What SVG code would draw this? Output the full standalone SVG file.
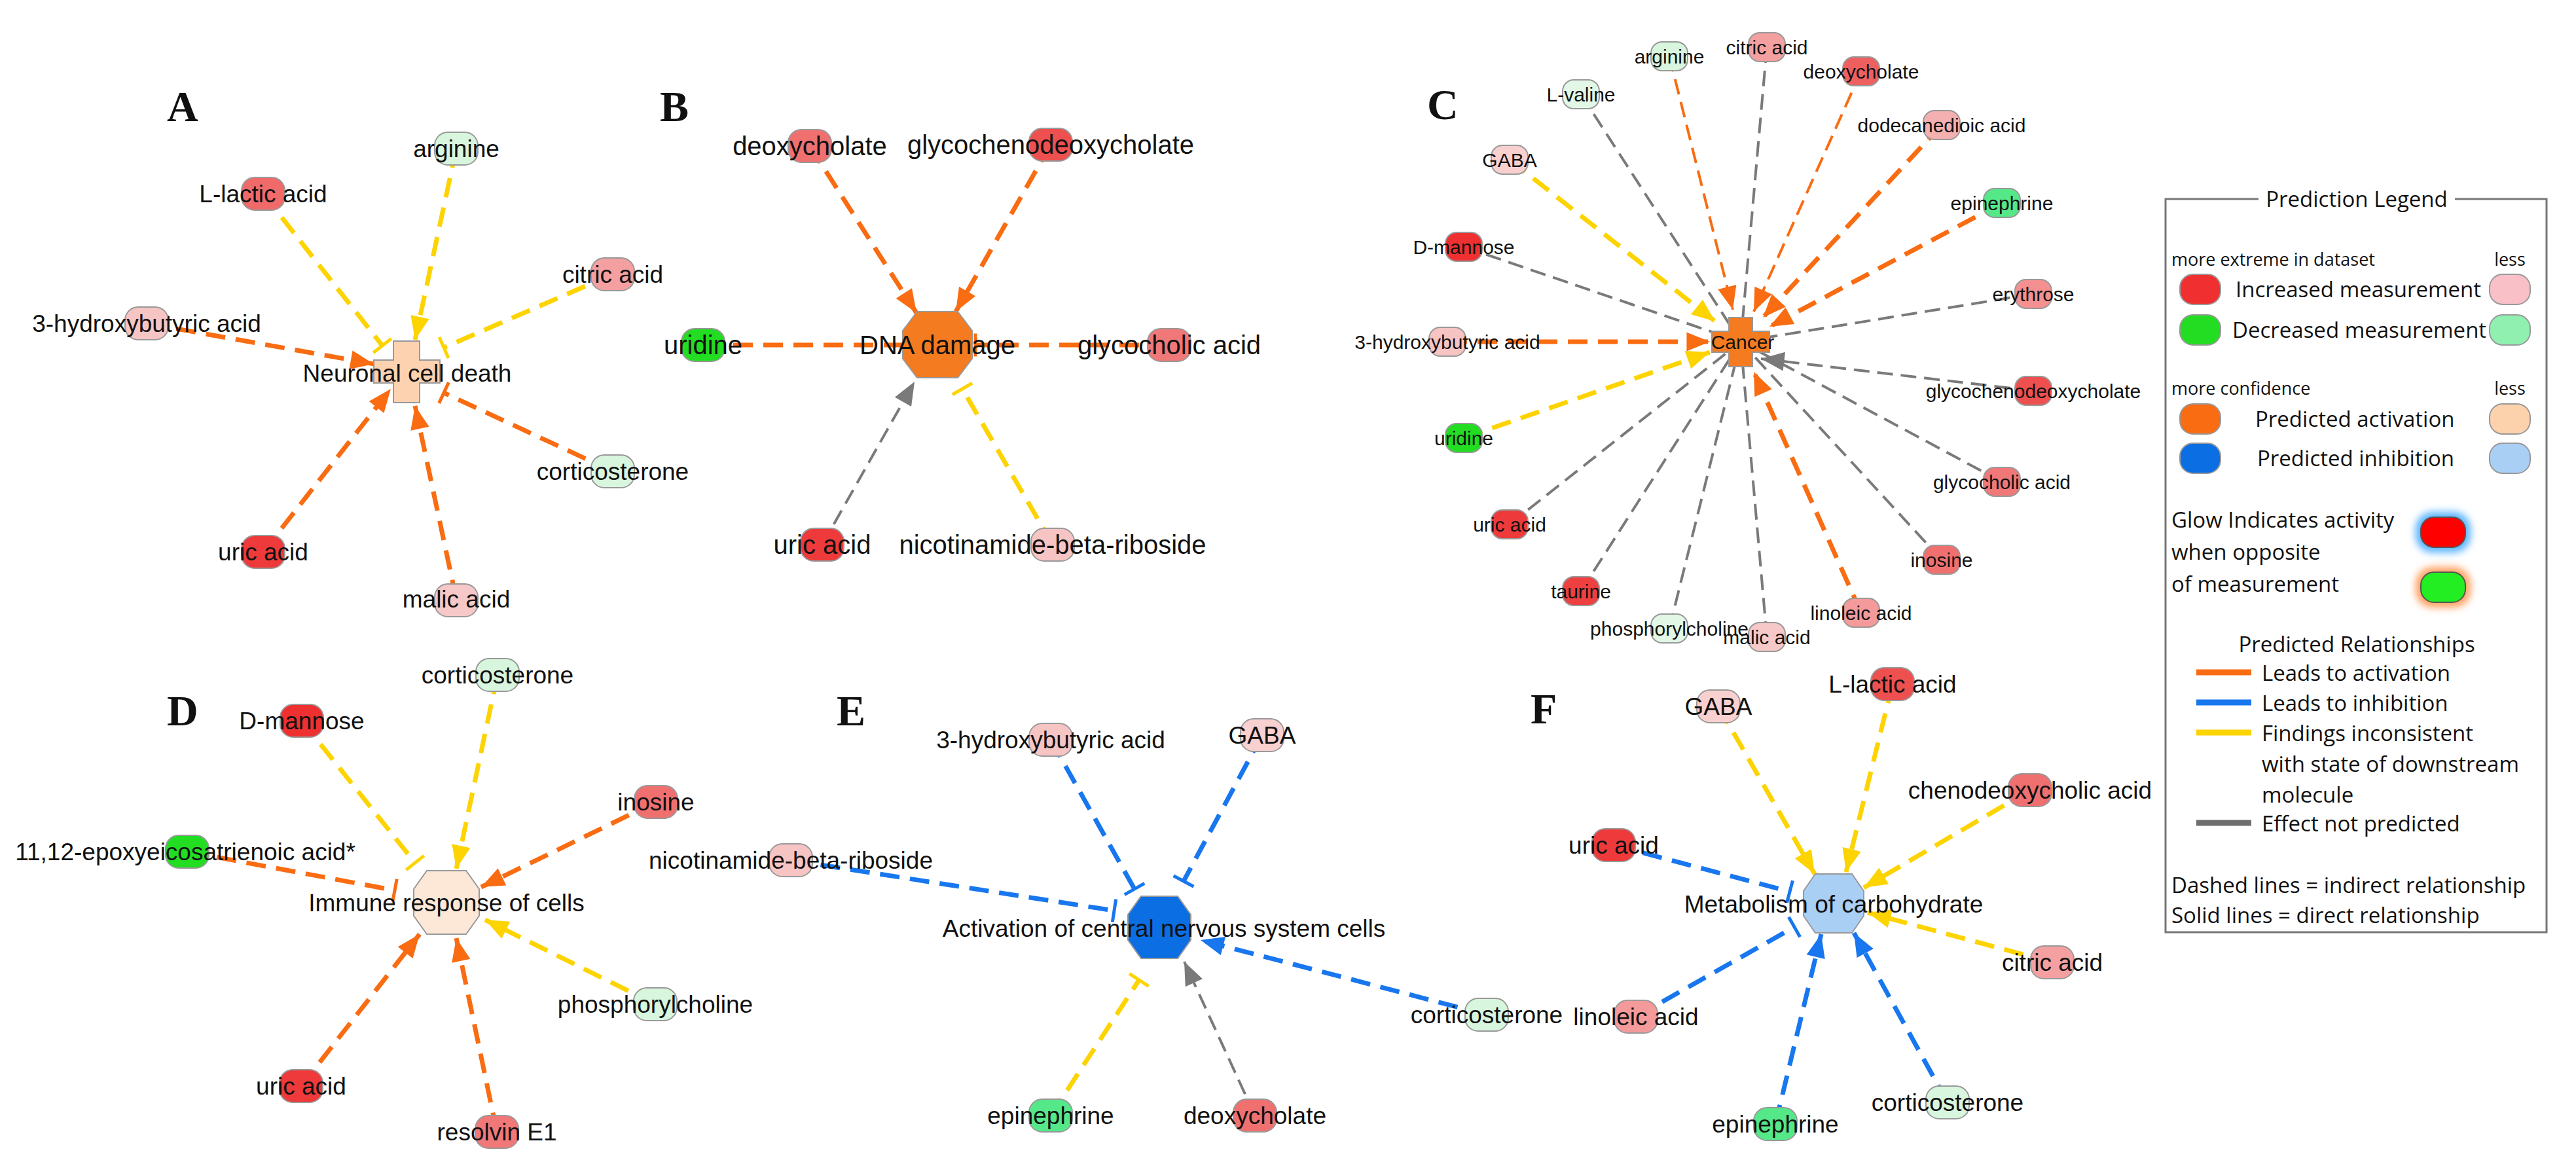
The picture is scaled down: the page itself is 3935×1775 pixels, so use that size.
<svg xmlns="http://www.w3.org/2000/svg" width="3935" height="1775" viewBox="0 0 3935 1775">
<style>
text{font-family:"Liberation Sans",Arial,sans-serif;fill:#111}
.lbl{font-family:"Liberation Serif","Times New Roman",serif;font-weight:bold;font-size:66px}
.n{stroke:#999;stroke-width:2}
.t37{font-size:37px;text-anchor:middle;dominant-baseline:central}
.t40{font-size:40px;text-anchor:middle;dominant-baseline:central}
.t30{font-size:30px;text-anchor:middle;dominant-baseline:central}
.e{fill:none;stroke-width:7;stroke-dasharray:30 16}
.thin{stroke-width:4;stroke-dasharray:24 12}
.o{stroke:#f96c12}.b{stroke:#1877ee}.y{stroke:#fdd300}.g{stroke:#7a7a7a}
.lg{font-size:33px;font-family:"Open Sans","Liberation Sans",sans-serif}
.ls{font-size:27px;font-family:"Open Sans","Liberation Sans",sans-serif}
</style>
<defs>
<marker id="ao" markerUnits="userSpaceOnUse" markerWidth="40" markerHeight="40" viewBox="-34 -14 36 28" refX="0" refY="0" orient="auto"><path d="M0,0 L-32,-13 L-32,13Z" fill="#f96c12"/></marker>
<marker id="ab" markerUnits="userSpaceOnUse" markerWidth="40" markerHeight="40" viewBox="-34 -14 36 28" refX="0" refY="0" orient="auto"><path d="M0,0 L-32,-13 L-32,13Z" fill="#1877ee"/></marker>
<marker id="ay" markerUnits="userSpaceOnUse" markerWidth="40" markerHeight="40" viewBox="-34 -14 36 28" refX="0" refY="0" orient="auto"><path d="M0,0 L-32,-13 L-32,13Z" fill="#fdd300"/></marker>
<marker id="ag" markerUnits="userSpaceOnUse" markerWidth="40" markerHeight="40" viewBox="-34 -14 36 28" refX="0" refY="0" orient="auto"><path d="M0,0 L-32,-13 L-32,13Z" fill="#7a7a7a"/></marker>
<marker id="to" markerUnits="userSpaceOnUse" markerWidth="30" markerHeight="40" viewBox="-10 -16 20 32" refX="0" refY="0" orient="auto"><path d="M0,-14 L0,14" stroke="#f96c12" stroke-width="4"/></marker>
<marker id="tb" markerUnits="userSpaceOnUse" markerWidth="30" markerHeight="40" viewBox="-10 -16 20 32" refX="0" refY="0" orient="auto"><path d="M0,-14 L0,14" stroke="#1877ee" stroke-width="4"/></marker>
<marker id="ty" markerUnits="userSpaceOnUse" markerWidth="30" markerHeight="40" viewBox="-10 -16 20 32" refX="0" refY="0" orient="auto"><path d="M0,-14 L0,14" stroke="#fdd300" stroke-width="4"/></marker>
<filter id="blur" x="-50%" y="-50%" width="200%" height="200%"><feGaussianBlur stdDeviation="6"/></filter>
</defs>
<rect width="3935" height="1775" fill="#fff"/>

<g id="connectors">
<!-- A -->
<line class="e y" x1="697" y1="227" x2="634" y2="519" marker-end="url(#ay)"/>
<line class="e y" x1="402" y1="296" x2="584" y2="528" marker-end="url(#ty)"/>
<line class="e y" x1="936" y1="419" x2="678" y2="531" marker-end="url(#ty)"/>
<line class="e o" x1="224" y1="494" x2="571" y2="556" marker-end="url(#ao)"/>
<line class="e o" x1="936" y1="720" x2="678" y2="600" marker-end="url(#to)"/>
<line class="e o" x1="402" y1="843" x2="597" y2="594" marker-end="url(#ao)"/>
<line class="e o" x1="697" y1="915" x2="634" y2="620" marker-end="url(#ao)"/>
<!-- B -->
<line class="e o" x1="1237" y1="223" x2="1400" y2="478" marker-end="url(#ao)"/>
<line class="e o" x1="1605" y1="221" x2="1460" y2="476" marker-end="url(#ao)"/>
<line class="e o" x1="1074" y1="527" x2="1379" y2="527"/>
<line class="e o" x1="1786" y1="527" x2="1490" y2="527" marker-end="url(#to)"/>
<line class="e g thin" x1="1256" y1="832" x2="1397" y2="583" marker-end="url(#ag)"/>
<line class="e y" x1="1608" y1="832" x2="1470" y2="594" marker-end="url(#ty)"/>
<!-- C -->
<line class="e o thin" x1="2550" y1="86" x2="2647" y2="473" marker-end="url(#ao)"/>
<line class="e g thin" x1="2699" y1="72" x2="2659" y2="522"/>
<line class="e o thin" x1="2843" y1="109" x2="2679" y2="476" marker-end="url(#ao)"/>
<line class="e g thin" x1="2415" y1="144" x2="2659" y2="522"/>
<line class="e o" x1="2966" y1="191" x2="2693" y2="485" marker-end="url(#ao)"/>
<line class="e y" x1="2306" y1="244" x2="2620" y2="491" marker-end="url(#ay)"/>
<line class="e o" x1="3058" y1="310" x2="2703" y2="499" marker-end="url(#ao)"/>
<line class="e g thin" x1="2236" y1="377" x2="2659" y2="522"/>
<line class="e g thin" x1="3106" y1="449" x2="2659" y2="522"/>
<line class="e o" x1="2211" y1="522" x2="2612" y2="522" marker-end="url(#ao)"/>
<line class="e g thin" x1="3106" y1="597" x2="2690" y2="548" marker-end="url(#ag)"/>
<line class="e y" x1="2236" y1="669" x2="2612" y2="538" marker-end="url(#ay)"/>
<line class="e g thin" x1="3058" y1="736" x2="2659" y2="522"/>
<line class="e g thin" x1="2306" y1="801" x2="2659" y2="522"/>
<line class="e g thin" x1="2966" y1="855" x2="2659" y2="522"/>
<line class="e g thin" x1="2415" y1="903" x2="2659" y2="522"/>
<line class="e o" x1="2843" y1="936" x2="2679" y2="568" marker-end="url(#ao)"/>
<line class="e g thin" x1="2550" y1="960" x2="2659" y2="522"/>
<line class="e g thin" x1="2699" y1="973" x2="2659" y2="522"/>
<!-- D -->
<line class="e y" x1="760" y1="1031" x2="697" y2="1327" marker-end="url(#ay)"/>
<line class="e y" x1="461" y1="1101" x2="634" y2="1318" marker-end="url(#ty)"/>
<line class="e o" x1="1002" y1="1225" x2="735" y2="1355" marker-end="url(#ao)"/>
<line class="e o" x1="286" y1="1301" x2="603" y2="1360" marker-end="url(#to)"/>
<line class="e y" x1="1001" y1="1534" x2="741" y2="1405" marker-end="url(#ay)"/>
<line class="e o" x1="460" y1="1659" x2="641" y2="1427" marker-end="url(#ao)"/>
<line class="e o" x1="759" y1="1729" x2="697" y2="1433" marker-end="url(#ao)"/>
<!-- E -->
<line class="e b" x1="1605" y1="1130" x2="1733" y2="1358" marker-end="url(#tb)"/>
<line class="e b" x1="1928" y1="1123" x2="1808" y2="1346" marker-end="url(#tb)"/>
<line class="e b" x1="1208" y1="1314" x2="1702" y2="1391" marker-end="url(#tb)"/>
<line class="e b" x1="2271" y1="1550" x2="1834" y2="1436" marker-end="url(#ab)"/>
<line class="e y" x1="1605" y1="1704" x2="1740" y2="1497" marker-end="url(#ty)"/>
<line class="e g thin" x1="1917" y1="1704" x2="1809" y2="1469" marker-end="url(#ag)"/>
<!-- F -->
<line class="e y" x1="2625" y1="1079" x2="2772" y2="1335" marker-end="url(#ay)"/>
<line class="e y" x1="2891" y1="1045" x2="2820" y2="1332" marker-end="url(#ay)"/>
<line class="e y" x1="3101" y1="1207" x2="2847" y2="1356" marker-end="url(#ay)"/>
<line class="e b" x1="2465" y1="1291" x2="2734" y2="1362" marker-end="url(#tb)"/>
<line class="e y" x1="3135" y1="1470" x2="2853" y2="1394" marker-end="url(#ay)"/>
<line class="e b" x1="2499" y1="1553" x2="2741" y2="1416" marker-end="url(#tb)"/>
<line class="e b" x1="2712" y1="1717" x2="2782" y2="1427" marker-end="url(#ab)"/>
<line class="e b" x1="2975" y1="1684" x2="2832" y2="1425" marker-end="url(#ab)"/>
</g>

<!-- panel labels -->
<g id="labels">
<text class="lbl" x="255" y="185">A</text>
<text class="lbl" x="1008" y="185">B</text>
<text class="lbl" x="2180" y="182">C</text>
<text class="lbl" x="255" y="1108">D</text>
<text class="lbl" x="1278" y="1108">E</text>
<text class="lbl" x="2338" y="1105">F</text>
</g>

<!-- Panel A -->
<g id="a-center"><path class="n" fill="#fcd2b0" d="M601,521 H641 V550 H672 V585 H641 V615 H601 V585 H571 V550 H601Z"/><text class="t37" x="622" y="570">Neuronal cell death</text></g>
<g id="a-arginine"><rect class="n" x="664" y="202" width="66" height="50" rx="20" fill="#d8f5de"/><text class="t37" x="697" y="227">arginine</text></g>
<g id="a-llactic"><rect class="n" x="369" y="271" width="66" height="50" rx="20" fill="#f06a6a"/><text class="t37" x="402" y="296">L-lactic acid</text></g>
<g id="a-citric"><rect class="n" x="903" y="394" width="66" height="50" rx="20" fill="#f4a0a0"/><text class="t37" x="936" y="419">citric acid</text></g>
<g id="a-3hb"><rect class="n" x="191" y="469" width="66" height="50" rx="20" fill="#f7c4c4"/><text class="t37" x="224" y="494">3-hydroxybutyric acid</text></g>
<g id="a-cort"><rect class="n" x="903" y="695" width="66" height="50" rx="20" fill="#d8f5de"/><text class="t37" x="936" y="720">corticosterone</text></g>
<g id="a-uric"><rect class="n" x="369" y="818" width="66" height="50" rx="20" fill="#ee3a3a"/><text class="t37" x="402" y="843">uric acid</text></g>
<g id="a-malic"><rect class="n" x="664" y="892" width="66" height="50" rx="20" fill="#f7c8c8"/><text class="t37" x="697" y="915">malic acid</text></g>

<!-- Panel B -->
<g id="b-center"><path class="n" fill="#f47b20" d="M1401,476 H1463 L1485,505 V548 L1463,577 H1401 L1379,548 V505Z"/><text class="t40" x="1432" y="527">DNA damage</text></g>
<g id="b-deoxy"><rect class="n" x="1204" y="198" width="66" height="50" rx="20" fill="#f07070"/><text class="t40" x="1237" y="223">deoxycholate</text></g>
<g id="b-gcdc"><rect class="n" x="1572" y="196" width="66" height="50" rx="20" fill="#ee5050"/><text class="t40" x="1605" y="221">glycochenodeoxycholate</text></g>
<g id="b-uridine"><rect class="n" x="1041" y="502" width="66" height="50" rx="20" fill="#22dd22"/><text class="t40" x="1074" y="527">uridine</text></g>
<g id="b-gca"><rect class="n" x="1753" y="502" width="66" height="50" rx="20" fill="#f07878"/><text class="t40" x="1786" y="527">glycocholic acid</text></g>
<g id="b-uric"><rect class="n" x="1223" y="807" width="66" height="50" rx="20" fill="#ee3a3a"/><text class="t40" x="1256" y="832">uric acid</text></g>
<g id="b-nbr"><rect class="n" x="1575" y="807" width="66" height="50" rx="20" fill="#f7c4c4"/><text class="t40" x="1608" y="832">nicotinamide-beta-riboside</text></g>

<!-- Panel C -->
<g id="c-center"><path class="n" fill="#f47b20" d="M2641,485 H2677 V506 H2703 V538 H2677 V560 H2641 V538 H2615 V506 H2641Z"/><text class="t30" x="2662" y="522">Cancer</text></g>
<g id="c-arg"><rect class="n" x="2522" y="64" width="56" height="44" rx="17" fill="#d8f5de"/><text class="t30" x="2550" y="86">arginine</text></g>
<g id="c-cit"><rect class="n" x="2671" y="50" width="56" height="44" rx="17" fill="#f4a0a0"/><text class="t30" x="2699" y="72">citric acid</text></g>
<g id="c-deoxy"><rect class="n" x="2815" y="87" width="56" height="44" rx="17" fill="#ee6060"/><text class="t30" x="2843" y="109">deoxycholate</text></g>
<g id="c-lval"><rect class="n" x="2387" y="122" width="56" height="44" rx="17" fill="#e2f7e6"/><text class="t30" x="2415" y="144">L-valine</text></g>
<g id="c-dodec"><rect class="n" x="2938" y="169" width="56" height="44" rx="17" fill="#f4b0b0"/><text class="t30" x="2966" y="191">dodecanedioic acid</text></g>
<g id="c-gaba"><rect class="n" x="2278" y="222" width="56" height="44" rx="17" fill="#f9d0d0"/><text class="t30" x="2306" y="244">GABA</text></g>
<g id="c-epi"><rect class="n" x="3030" y="288" width="56" height="44" rx="17" fill="#55e888"/><text class="t30" x="3058" y="310">epinephrine</text></g>
<g id="c-dman"><rect class="n" x="2208" y="355" width="56" height="44" rx="17" fill="#ee3030"/><text class="t30" x="2236" y="377">D-mannose</text></g>
<g id="c-ery"><rect class="n" x="3078" y="427" width="56" height="44" rx="17" fill="#f49090"/><text class="t30" x="3106" y="449">erythrose</text></g>
<g id="c-3hb"><rect class="n" x="2183" y="500" width="56" height="44" rx="17" fill="#f7c4c4"/><text class="t30" x="2211" y="522">3-hydroxybutyric acid</text></g>
<g id="c-gcdc"><rect class="n" x="3078" y="575" width="56" height="44" rx="17" fill="#ee5050"/><text class="t30" x="3106" y="597">glycochenodeoxycholate</text></g>
<g id="c-uridine"><rect class="n" x="2208" y="647" width="56" height="44" rx="17" fill="#22dd22"/><text class="t30" x="2236" y="669">uridine</text></g>
<g id="c-gca"><rect class="n" x="3030" y="714" width="56" height="44" rx="17" fill="#f07878"/><text class="t30" x="3058" y="736">glycocholic acid</text></g>
<g id="c-uric"><rect class="n" x="2278" y="779" width="56" height="44" rx="17" fill="#ee3a3a"/><text class="t30" x="2306" y="801">uric acid</text></g>
<g id="c-ino"><rect class="n" x="2938" y="833" width="56" height="44" rx="17" fill="#f07070"/><text class="t30" x="2966" y="855">inosine</text></g>
<g id="c-taur"><rect class="n" x="2387" y="881" width="56" height="44" rx="17" fill="#ee4040"/><text class="t30" x="2415" y="903">taurine</text></g>
<g id="c-lin"><rect class="n" x="2815" y="914" width="56" height="44" rx="17" fill="#f49a9a"/><text class="t30" x="2843" y="936">linoleic acid</text></g>
<g id="c-phos"><rect class="n" x="2522" y="938" width="56" height="44" rx="17" fill="#e2f7e6"/><text class="t30" x="2550" y="960">phosphorylcholine</text></g>
<g id="c-malic"><rect class="n" x="2671" y="951" width="56" height="44" rx="17" fill="#f7c8c8"/><text class="t30" x="2699" y="973">malic acid</text></g>

<!-- Panel D -->
<g id="d-center"><path class="n" fill="#fde8d8" d="M652,1330 H712 L732,1358 V1399 L712,1427 H652 L632,1399 V1358Z"/><text class="t37" x="682" y="1379">Immune response of cells</text></g>
<g id="d-cort"><rect class="n" x="727" y="1006" width="66" height="50" rx="20" fill="#d8f5de"/><text class="t37" x="760" y="1031">corticosterone</text></g>
<g id="d-dman"><rect class="n" x="428" y="1076" width="66" height="50" rx="20" fill="#ee3030"/><text class="t37" x="461" y="1101">D-mannose</text></g>
<g id="d-ino"><rect class="n" x="969" y="1200" width="66" height="50" rx="20" fill="#f07070"/><text class="t37" x="1002" y="1225">inosine</text></g>
<g id="d-eet"><rect class="n" x="253" y="1276" width="66" height="50" rx="20" fill="#22dd22"/><text class="t37" x="283" y="1301">11,12-epoxyeicosatrienoic acid*</text></g>
<g id="d-phos"><rect class="n" x="968" y="1509" width="66" height="50" rx="20" fill="#d8f5de"/><text class="t37" x="1001" y="1534">phosphorylcholine</text></g>
<g id="d-uric"><rect class="n" x="427" y="1634" width="66" height="50" rx="20" fill="#ee3a3a"/><text class="t37" x="460" y="1659">uric acid</text></g>
<g id="d-res"><rect class="n" x="726" y="1704" width="66" height="50" rx="20" fill="#f07878"/><text class="t37" x="759" y="1729">resolvin E1</text></g>

<!-- Panel E -->
<g id="e-center"><path class="n" fill="#0b6fe3" d="M1743,1369 H1799 L1819,1397 V1436 L1799,1464 H1743 L1723,1436 V1397Z"/><text class="t37" x="1778" y="1418">Activation of central nervous system cells</text></g>
<g id="e-3hb"><rect class="n" x="1572" y="1105" width="66" height="50" rx="20" fill="#f7c4c4"/><text class="t37" x="1605" y="1130">3-hydroxybutyric acid</text></g>
<g id="e-gaba"><rect class="n" x="1895" y="1098" width="66" height="50" rx="20" fill="#f9d0d0"/><text class="t37" x="1928" y="1123">GABA</text></g>
<g id="e-nbr"><rect class="n" x="1175" y="1289" width="66" height="50" rx="20" fill="#f7c4c4"/><text class="t37" x="1208" y="1314">nicotinamide-beta-riboside</text></g>
<g id="e-cort"><rect class="n" x="2238" y="1525" width="66" height="50" rx="20" fill="#d8f5de"/><text class="t37" x="2271" y="1550">corticosterone</text></g>
<g id="e-epi"><rect class="n" x="1572" y="1679" width="66" height="50" rx="20" fill="#55e888"/><text class="t37" x="1605" y="1704">epinephrine</text></g>
<g id="e-deoxy"><rect class="n" x="1884" y="1679" width="66" height="50" rx="20" fill="#f07070"/><text class="t37" x="1917" y="1704">deoxycholate</text></g>

<!-- Panel F -->
<g id="f-center"><path class="n" fill="#a9cff5" d="M2773,1335 H2829 L2847,1361 V1399 L2829,1425 H2773 L2755,1399 V1361Z"/><text class="t37" x="2801" y="1381">Metabolism of carbohydrate</text></g>
<g id="f-gaba"><rect class="n" x="2592" y="1054" width="66" height="50" rx="20" fill="#f9d0d0"/><text class="t37" x="2625" y="1079">GABA</text></g>
<g id="f-llac"><rect class="n" x="2858" y="1020" width="66" height="50" rx="20" fill="#ee5050"/><text class="t37" x="2891" y="1045">L-lactic acid</text></g>
<g id="f-cdca"><rect class="n" x="3068" y="1182" width="66" height="50" rx="20" fill="#f07070"/><text class="t37" x="3101" y="1207">chenodeoxycholic acid</text></g>
<g id="f-uric"><rect class="n" x="2432" y="1266" width="66" height="50" rx="20" fill="#ee3a3a"/><text class="t37" x="2465" y="1291">uric acid</text></g>
<g id="f-cit"><rect class="n" x="3102" y="1445" width="66" height="50" rx="20" fill="#f4a0a0"/><text class="t37" x="3135" y="1470">citric acid</text></g>
<g id="f-lin"><rect class="n" x="2466" y="1528" width="66" height="50" rx="20" fill="#f49a9a"/><text class="t37" x="2499" y="1553">linoleic acid</text></g>
<g id="f-cort"><rect class="n" x="2942" y="1659" width="66" height="50" rx="20" fill="#d8f5de"/><text class="t37" x="2975" y="1684">corticosterone</text></g>
<g id="f-epi"><rect class="n" x="2679" y="1692" width="66" height="50" rx="20" fill="#55e888"/><text class="t37" x="2712" y="1717">epinephrine</text></g>

<!-- Legend -->
<g id="legend">
<path d="M3450,304 H3308 V1424 H3890 V304 H3750" fill="none" stroke="#777" stroke-width="3"/>
<text class="lg" x="3600" y="316" text-anchor="middle">Prediction Legend</text>
<text class="ls" x="3317" y="406">more extreme in dataset</text>
<text class="ls" x="3834" y="406" text-anchor="middle">less</text>
<rect class="n" x="3330" y="419" width="62" height="46" rx="20" fill="#f03030"/>
<text class="lg" x="3415" y="454">Increased measurement</text>
<rect class="n" x="3803" y="419" width="62" height="46" rx="20" fill="#f9c0c8"/>
<rect class="n" x="3330" y="481" width="62" height="46" rx="20" fill="#22dd22"/>
<text class="lg" x="3410" y="516">Decreased measurement</text>
<rect class="n" x="3803" y="481" width="62" height="46" rx="20" fill="#8ff0b0"/>
<text class="ls" x="3317" y="603">more confidence</text>
<text class="ls" x="3834" y="603" text-anchor="middle">less</text>
<rect class="n" x="3330" y="617" width="62" height="46" rx="20" fill="#f96c12"/>
<text class="lg" x="3445" y="652">Predicted activation</text>
<rect class="n" x="3803" y="617" width="62" height="46" rx="20" fill="#fcd2ac"/>
<rect class="n" x="3330" y="677" width="62" height="46" rx="20" fill="#0b6fe3"/>
<text class="lg" x="3448" y="712">Predicted inhibition</text>
<rect class="n" x="3803" y="677" width="62" height="46" rx="20" fill="#a9cff5"/>
<text class="lg" x="3317" y="806">Glow Indicates activity</text>
<text class="lg" x="3317" y="855">when opposite</text>
<text class="lg" x="3317" y="904">of measurement</text>
<rect x="3690" y="782" width="84" height="62" rx="26" fill="#58b4ff" filter="url(#blur)"/>
<rect x="3698" y="790" width="68" height="46" rx="20" fill="#ff0000" stroke="#555" stroke-width="2"/>
<rect x="3690" y="866" width="84" height="62" rx="26" fill="#ffa060" filter="url(#blur)"/>
<rect x="3698" y="874" width="68" height="46" rx="20" fill="#22ee22" stroke="#555" stroke-width="2"/>
<text class="lg" x="3600" y="996" text-anchor="middle" fill="#333">Predicted Relationships</text>
<line x1="3355" y1="1027" x2="3439" y2="1027" stroke="#f96c12" stroke-width="9"/>
<text class="lg" x="3455" y="1040">Leads to activation</text>
<line x1="3355" y1="1073" x2="3439" y2="1073" stroke="#1877ee" stroke-width="9"/>
<text class="lg" x="3455" y="1086">Leads to inhibition</text>
<line x1="3355" y1="1119" x2="3439" y2="1119" stroke="#fdd300" stroke-width="9"/>
<text class="lg" x="3455" y="1132">Findings inconsistent</text>
<text class="lg" x="3455" y="1179">with state of downstream</text>
<text class="lg" x="3455" y="1226">molecule</text>
<line x1="3355" y1="1257" x2="3439" y2="1257" stroke="#6e6e6e" stroke-width="9"/>
<text class="lg" x="3455" y="1270">Effect not predicted</text>
<text class="lg" x="3317" y="1364">Dashed lines = indirect relationship</text>
<text class="lg" x="3317" y="1410">Solid lines = direct relationship</text>
</g>
</svg>
